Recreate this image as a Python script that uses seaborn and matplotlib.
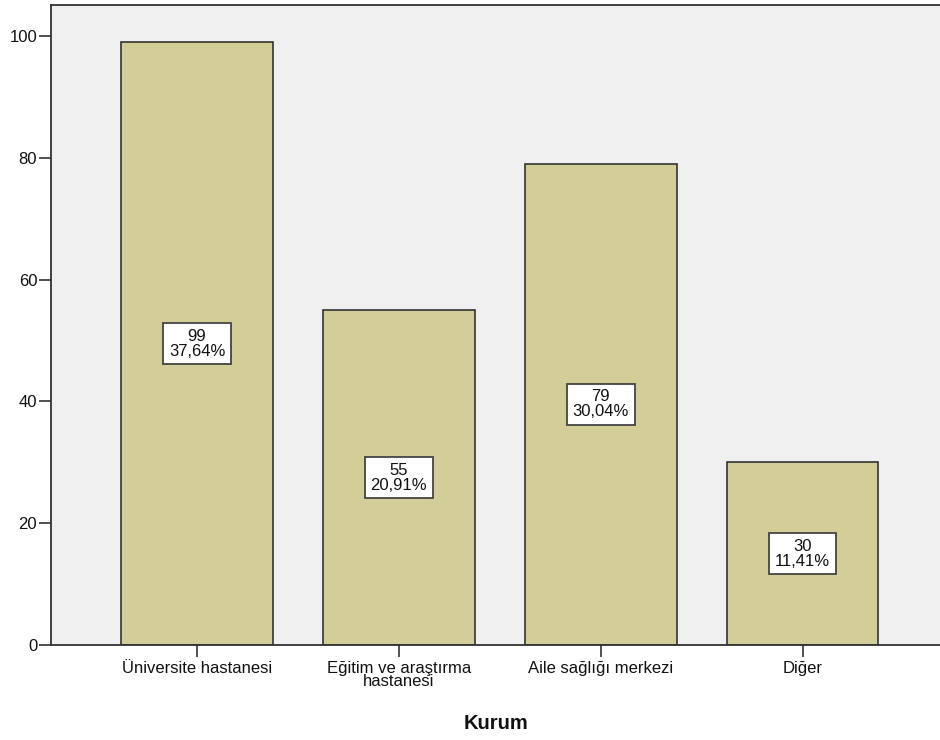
import matplotlib
matplotlib.use("Agg")
import matplotlib.pyplot as plt
import seaborn as sns
import pandas as pd

categories = ["Üniversite hastanesi", "Eğitim ve araştırma\nhastanesi", "Aile sağlığı merkezi", "Diğer"]
counts = [99, 55, 79, 30]
percents = ["37,64%", "20,91%", "30,04%", "11,41%"]
yticks = [0, 20, 40, 60, 80, 100]

sns.set_theme(style="white")
plt.rcParams["font.family"] = ["Liberation Sans", "DejaVu Sans"]

df = pd.DataFrame({"Kurum": categories, "count": counts})

fig = plt.figure(figsize=(9.4, 7.4), dpi=100)
ax = fig.add_axes([0.0543, 0.1284, 0.9457, 0.8648])
ax.set_facecolor("#F0F0F0")

sns.barplot(data=df, x="Kurum", y="count", color="#D3CE97", saturation=1,
            width=0.75, edgecolor="#333333", linewidth=1.2, ax=ax)

for i, (c, p) in enumerate(zip(counts, percents)):
    ax.text(i, c / 2, f"{c}\n{p}", ha="center", va="center", fontsize=12,
            color="#111111", linespacing=1.0,
            bbox=dict(boxstyle="square,pad=0.35", fc="white", ec="#444444", lw=1.3))

ax.set_ylim(0, 105.1)
ax.set_xlim(-0.723, 3.68)
ax.set_yticks(yticks)
ax.set_yticklabels([str(t) for t in yticks], fontsize=12)
ax.tick_params(axis="y", left=True, length=9, width=1.2, color="#333333", pad=1, labelcolor="#111111")
ax.tick_params(axis="x", bottom=True, length=8.5, width=1.2, color="#333333", pad=3, labelsize=12, labelcolor="#111111")
for lbl in ax.get_xticklabels():
    lbl.set_linespacing(0.8)
ax.set_ylabel("")
ax.set_xlabel("Kurum", fontsize=14.5, fontweight="bold", labelpad=18, color="#111111")

for side in ["left", "top", "bottom"]:
    ax.spines[side].set_visible(True)
    ax.spines[side].set_color("#333333")
    ax.spines[side].set_linewidth(1.3)
ax.spines["right"].set_visible(False)

fig.savefig("out.png", dpi=100, facecolor="white")
